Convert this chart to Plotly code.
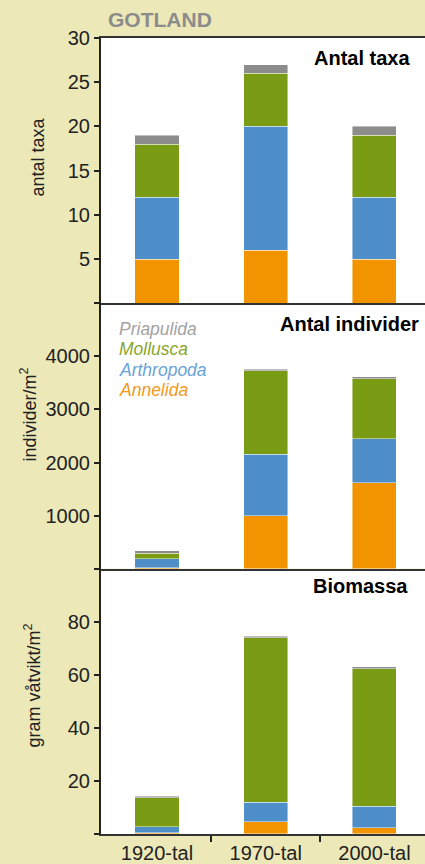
import plotly.graph_objects as go
from plotly.subplots import make_subplots

categories = ["1920-tal", "1970-tal", "2000-tal"]
series_names = ["Annelida", "Arthropoda", "Mollusca", "Priapulida"]
bar_colors = ["#f29400", "#4f8fc9", "#7a9b14", "#8c8c8c"]
legend_colors = ["#f39a1a", "#6aa3d8", "#8aa52a", "#a3a3a3"]

# Antal taxa
taxa_annelida = [5, 6, 5]
taxa_arthropoda = [7, 14, 7]
taxa_mollusca = [6, 6, 7]
taxa_priapulida = [1, 1, 1]

# Antal individer (individer/m2)
ind_annelida = [20, 1000, 1620]
ind_arthropoda = [170, 1160, 825]
ind_mollusca = [100, 1565, 1135]
ind_priapulida = [45, 37, 37]

# Biomassa (gram våtvikt/m2)
bio_annelida = [0.4, 4.7, 2.3]
bio_arthropoda = [2.4, 7.2, 8.1]
bio_mollusca = [10.8, 62.0, 51.8]
bio_priapulida = [0.7, 0.7, 0.8]

panel_titles = ["Antal taxa", "Antal individer", "Biomassa"]
y_titles = ["antal taxa", "individer/m<sup>2</sup>", "gram våtvikt/m<sup>2</sup>"]
y_ranges = [[0, 30], [0, 5000], [0, 100]]
y_ticks = [[0, 5, 10, 15, 20, 25, 30], [0, 1000, 2000, 3000, 4000], [0, 20, 40, 60, 80]]

panels = [
    [taxa_annelida, taxa_arthropoda, taxa_mollusca, taxa_priapulida],
    [ind_annelida, ind_arthropoda, ind_mollusca, ind_priapulida],
    [bio_annelida, bio_arthropoda, bio_mollusca, bio_priapulida],
]

FONT = "Liberation Sans, Arial, Helvetica, sans-serif"
BG = "#ece8b8"
AX = "#222222"

fig = make_subplots(rows=3, cols=1, shared_xaxes=True, vertical_spacing=0)
xpos = list(range(len(categories)))

for r, panel in enumerate(panels, start=1):
    for name, vals, col in zip(series_names, panel, bar_colors):
        fig.add_trace(go.Bar(x=xpos, y=vals, name=name, width=0.405,
                             marker=dict(color=col, line=dict(color="rgba(255,255,255,0.55)", width=0.8)),
                             showlegend=False), row=r, col=1)

fig.update_layout(
    width=425, height=864, barmode="stack",
    paper_bgcolor=BG, plot_bgcolor="white",
    margin=dict(l=101, r=0, t=38, b=27),
    font=dict(family=FONT, color=AX, size=20),
    showlegend=False,
)

for r in range(1, 4):
    fig.update_xaxes(range=[-0.515, 2.465], showgrid=False, zeroline=False,
                     showline=True, linecolor="#333333", linewidth=2,
                     mirror=(r == 1), showticklabels=(r == 3), ticks="",
                     row=r, col=1)
    fig.update_yaxes(range=y_ranges[r - 1], tickvals=y_ticks[r - 1],
                     ticktext=["" if v == 0 else str(v) for v in y_ticks[r - 1]],
                     showgrid=False, zeroline=False, showline=True,
                     linecolor=AX, linewidth=2, ticks="outside", ticklen=5,
                     tickwidth=1.5, tickcolor=AX, tickfont=dict(size=20, color=AX),
                     row=r, col=1)

fig.update_xaxes(tickvals=xpos, ticktext=categories, tickfont=dict(size=20, color=AX),
                 minor=dict(tickmode="array", tickvals=[0.5, 1.5], ticks="outside",
                            ticklen=6, tickwidth=1.5, tickcolor=AX),
                 row=3, col=1)

# plot area geometry (px) for annotation placement
top, bottom, left, width = 38, 837, 101, 324
H = bottom - top
def py(y):
    return (bottom - y) / H
def px(x):
    return (x - left) / width

# title
fig.add_annotation(text="<b>GOTLAND</b>", xref="paper", yref="paper", x=px(106), y=py(19),
                   xanchor="left", yanchor="middle", showarrow=False,
                   font=dict(size=21, color="#8c8c8c", family=FONT))

# panel titles
title_pos = [(412, 58), (421, 325), (410, 588)]
for t, (tx, ty) in zip(panel_titles, title_pos):
    fig.add_annotation(text="<b>" + t + "</b>", xref="paper", yref="paper", x=px(tx), y=py(ty),
                       xanchor="right", yanchor="middle", showarrow=False,
                       font=dict(size=20, color="black", family=FONT))

# y titles
ytitle_pos = [(38, 158), (29, 416), (33, 688)]
for t, (tx, ty) in zip(y_titles, ytitle_pos):
    fig.add_annotation(text=t, xref="paper", yref="paper", x=px(tx), y=py(ty),
                       xanchor="center", yanchor="middle", showarrow=False, textangle=-90,
                       font=dict(size=18, color=AX, family=FONT))

# legend (text only)
leg_y = [391, 371, 350, 330]
for name, col, ly in zip(series_names, legend_colors, leg_y):
    fig.add_annotation(text="<i>" + name + "</i>", xref="paper", yref="paper", x=px(117), y=py(ly),
                       xanchor="left", yanchor="middle", showarrow=False,
                       font=dict(size=17.5, color=col, family=FONT))

fig.write_html("out.html", config={"displayModeBar": False},
               post_script="document.body.style.margin='0';document.body.style.overflow='hidden';")
